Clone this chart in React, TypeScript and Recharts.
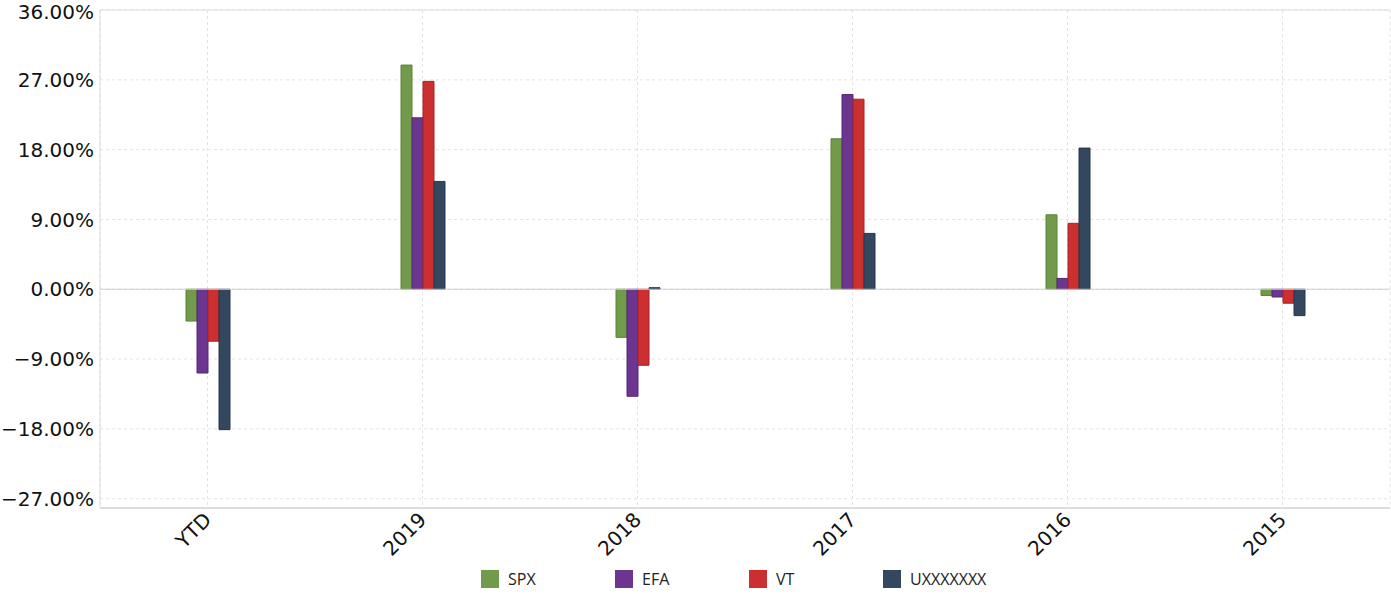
import React from 'react';
import {
  BarChart,
  Bar,
  XAxis,
  YAxis,
  CartesianGrid,
  Legend,
  ReferenceLine,
} from 'recharts';

const categories = ['YTD', '2019', '2018', '2017', '2016', '2015'];
const spx = [-4.1, 28.9, -6.2, 19.4, 9.6, -0.8];
const efa = [-10.8, 22.1, -13.8, 25.1, 1.4, -1.0];
const vt = [-6.7, 26.8, -9.8, 24.5, 8.5, -1.8];
const ux = [-18.1, 13.9, 0.2, 7.2, 18.2, -3.4];
const yTicks = [-27, -18, -9, 0, 9, 18, 27, 36];

const series = [
  { key: 'SPX', fill: '#719b4b', stroke: '#5d8139' },
  { key: 'EFA', fill: '#6b3590', stroke: '#552877' },
  { key: 'VT', fill: '#cc2f30', stroke: '#a82224' },
  { key: 'UXXXXXXX', fill: '#33475f', stroke: '#26374c' },
];

const data = categories.map((c, i) => ({
  name: c,
  SPX: spx[i],
  EFA: efa[i],
  VT: vt[i],
  UXXXXXXX: ux[i],
}));

const fmt = (v: number) => (v < 0 ? '\u2212' : '') + Math.abs(v).toFixed(2) + '%';

const LegendContent = () => (
  <div style={{ display: 'flex', paddingLeft: 481, fontFamily: '"Open Sans", sans-serif', fontSize: 16, color: '#222' }}>
    {series.map((s) => (
      <div key={s.key} style={{ width: 134, display: 'flex', alignItems: 'center' }}>
        <span style={{ width: 18, height: 18, background: s.fill, display: 'inline-block', marginRight: 9 }} />
        <span>{s.key}</span>
      </div>
    ))}
  </div>
);

export default function App() {
  return (
    <div style={{ position: 'absolute', left: 0, top: 0, background: '#fff' }}>
      <BarChart
        width={1391}
        height={594}
        data={data}
        margin={{ top: 10, right: 1, left: 0, bottom: 0 }}
        barSize={11}
        barGap={0}
      >
        <CartesianGrid stroke="#e3e3e3" strokeDasharray="3 3" />
        <XAxis
          dataKey="name"
          height={60}
          axisLine={{ stroke: '#dcdcdc', strokeWidth: 2 }}
          tickLine={false}
          tickSize={0}
          tickMargin={3}
          angle={-45}
          textAnchor="end"
          dx={-5}
          tick={{ fill: '#111', fontSize: 20, fontFamily: '"DejaVu Sans", sans-serif' }}
        />
        <YAxis
          width={100}
          domain={[-28.2, 36]}
          ticks={yTicks}
          tickFormatter={fmt}
          axisLine={{ stroke: '#dcdcdc' }}
          tickLine={false}
          tickSize={4}
          tickMargin={2}
          tick={{ fill: '#111', fontSize: 20, fontFamily: '"DejaVu Sans", sans-serif' }}
          allowDataOverflow
        />
        <ReferenceLine y={36} stroke="#dcdcdc" />
        <ReferenceLine y={0} stroke="#cfcfcf" />
        {series.map((s) => (
          <Bar
            key={s.key}
            dataKey={s.key}
            fill={s.fill}
            stroke={s.stroke}
            strokeWidth={1}
            isAnimationActive={false}
          />
        ))}
        <Legend verticalAlign="bottom" height={26} wrapperStyle={{ left: 0, width: 1391 }} content={LegendContent} />
      </BarChart>
    </div>
  );
}
